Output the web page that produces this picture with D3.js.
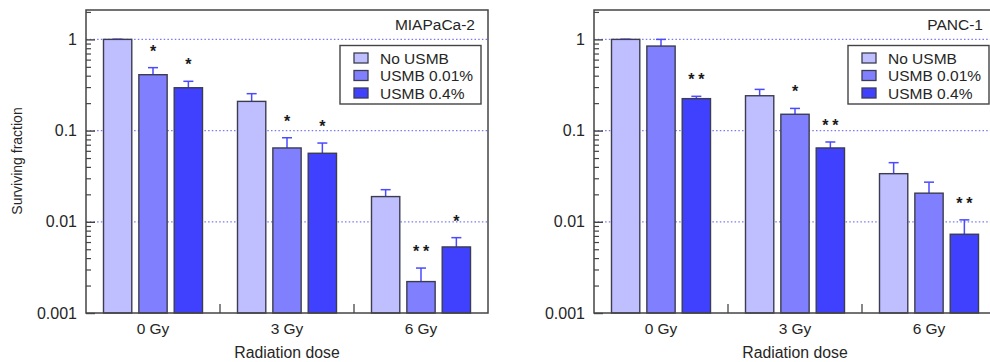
<!DOCTYPE html>
<html><head><meta charset="utf-8">
<script src="https://cdn.jsdelivr.net/npm/d3@7/dist/d3.min.js"></script>
<style>body{margin:0;background:#fff}svg{display:block}text{font-family:"Liberation Sans",Arial,sans-serif;fill:#262626}</style>
</head><body><svg id="c" width="990" height="362"></svg>
<script>
const doses = ["0 Gy", "3 Gy", "6 Gy"];
const seriesNames = ["No USMB", "USMB 0.01%", "USMB 0.4%"];
const seriesColors = ["#bfbfff", "#8080ff", "#4040ff"];
const yTickValues = [0.001, 0.01, 0.1, 1];
const yTickLabels = ["0.001", "0.01", "0.1", "1"];
const gridValues = [0.01, 0.1, 1];

// MIAPaCa-2
const mia_noUSMB = [1.0, 0.209, 0.0189];
const mia_usmb001 = [0.41, 0.0645, 0.00221];
const mia_usmb04 = [0.295, 0.0564, 0.0053];
const mia_err_noUSMB = [0.004, 0.045, 0.0036];
const mia_err_usmb001 = [0.08, 0.019, 0.0009];
const mia_err_usmb04 = [0.052, 0.0166, 0.0014];
const mia_sig_noUSMB = ["", "", ""];
const mia_sig_usmb001 = ["*", "*", "**"];
const mia_sig_usmb04 = ["*", "*", "*"];

// PANC-1
const panc_noUSMB = [1.0, 0.241, 0.0337];
const panc_usmb001 = [0.845, 0.151, 0.0206];
const panc_usmb04 = [0.224, 0.0645, 0.0073];
const panc_err_noUSMB = [0.004, 0.042, 0.0108];
const panc_err_usmb001 = [0.155, 0.024, 0.0066];
const panc_err_usmb04 = [0.0135, 0.0105, 0.0032];
const panc_sig_noUSMB = ["", "", ""];
const panc_sig_usmb001 = ["", "*", ""];
const panc_sig_usmb04 = ["**", "**", "**"];

const panels = [
  {title: "MIAPaCa-2", x0: 86, x1: 488, ylabel: true,
   vals: [mia_noUSMB, mia_usmb001, mia_usmb04],
   errs: [mia_err_noUSMB, mia_err_usmb001, mia_err_usmb04],
   sigs: [mia_sig_noUSMB, mia_sig_usmb001, mia_sig_usmb04]},
  {title: "PANC-1", x0: 594, x1: 996, ylabel: false,
   vals: [panc_noUSMB, panc_usmb001, panc_usmb04],
   errs: [panc_err_noUSMB, panc_err_usmb001, panc_err_usmb04],
   sigs: [panc_sig_noUSMB, panc_sig_usmb001, panc_sig_usmb04]}
];

(function () {
const svg = d3.select("#c");
const plotTop = 10, plotBottom = 313;
const y = d3.scaleLog().domain([0.001, 2.1]).range([plotBottom, plotTop]);
const minorTicks = y.ticks().filter(v => !yTickValues.some(t => Math.abs(t - v) / t < 1e-6));

panels.forEach(p => {
  const g = svg.append("g");
  const x = d3.scaleBand().domain(doses).range([p.x0, p.x1]).padding(0);
  const xi = d3.scaleBand().domain(seriesNames).range([17.5, x.bandwidth() - 17.5]).paddingInner(0.2);

  // grid
  g.selectAll(".grid").data(gridValues).join("line")
    .attr("x1", p.x0).attr("x2", p.x1)
    .attr("y1", d => y(d)).attr("y2", d => y(d))
    .attr("stroke", "#7b7bf0").attr("stroke-width", 1.2).attr("stroke-dasharray", "1.5,2.2");

  const rows = [];
  seriesNames.forEach((s, si) => doses.forEach((d, di) => rows.push({s, si, d, v: p.vals[si][di], e: p.errs[si][di], sig: p.sigs[si][di]})));

  // error bars + significance
  rows.forEach(r => {
    const cx = x(r.d) + xi(r.s) + xi.bandwidth() / 2;
    const ty = y(r.v + r.e);
    g.append("line").attr("x1", cx).attr("x2", cx).attr("y1", y(r.v)).attr("y2", ty)
      .attr("stroke", "#4a4aff").attr("stroke-width", 1.5);
    g.append("line").attr("x1", cx - 5).attr("x2", cx + 5).attr("y1", ty).attr("y2", ty)
      .attr("stroke", "#4a4aff").attr("stroke-width", 1.5);
    if (r.sig) {
      const n = r.sig.length;
      for (let k = 0; k < n; k++) {
        g.append("text").attr("x", cx + (k - (n - 1) / 2) * 10).attr("y", ty - 20 + 9)
          .attr("text-anchor", "middle").attr("font-size", 16).attr("font-weight", "bold")
          .style("fill", "#1a1a1a").text("*");
      }
    }
  });
  // bars
  g.selectAll(".bar").data(rows).join("rect")
    .attr("x", r => x(r.d) + xi(r.s)).attr("width", xi.bandwidth())
    .attr("y", r => y(r.v)).attr("height", r => plotBottom - y(r.v))
    .attr("fill", r => seriesColors[r.si]).attr("stroke", "#3c3c50").attr("stroke-width", 1.4);

  // y axis
  const ax = g.append("g").attr("transform", `translate(${p.x0},0)`)
    .call(d3.axisLeft(y).tickValues(yTickValues).tickFormat((d, i) => yTickLabels[i]).tickSizeInner(-9).tickSizeOuter(0).tickPadding(9));
  ax.select(".domain").remove();
  ax.selectAll("line").attr("stroke", "#444").attr("stroke-width", 1.4);
  ax.selectAll("text").attr("font-size", 16).style("fill", "#262626").attr("font-family", '"Liberation Sans",Arial,sans-serif');
  const axm = g.append("g").attr("transform", `translate(${p.x0},0)`)
    .call(d3.axisLeft(y).tickValues(minorTicks).tickFormat("").tickSizeInner(-5).tickSizeOuter(0));
  axm.select(".domain").remove();
  axm.selectAll("line").attr("stroke", "#444").attr("stroke-width", 1.2);

  // x axis labels and separators
  const xa = g.append("g").attr("transform", `translate(0,${plotBottom})`)
    .call(d3.axisBottom(x).tickSize(0).tickPadding(10));
  xa.select(".domain").remove();
  xa.selectAll("text").attr("font-size", 15.5).style("fill", "#262626").attr("font-family", '"Liberation Sans",Arial,sans-serif');
  g.selectAll(".sep").data(doses.slice(1)).join("line")
    .attr("x1", d => x(d)).attr("x2", d => x(d)).attr("y1", plotBottom).attr("y2", plotBottom - 9)
    .attr("stroke", "#555").attr("stroke-width", 1.4);

  // frame
  g.append("rect").attr("x", p.x0).attr("y", plotTop).attr("width", p.x1 - p.x0).attr("height", plotBottom - plotTop)
    .attr("fill", "none").attr("stroke", "#444").attr("stroke-width", 1.5);

  // title
  g.append("text").attr("x", p.x1 - 13).attr("y", 29.5).attr("text-anchor", "end")
    .attr("font-size", 15.5).text(p.title);

  // x label
  g.append("text").attr("x", (p.x0 + p.x1) / 2).attr("y", 358).attr("text-anchor", "middle")
    .attr("font-size", 15.8).text("Radiation dose");

  if (p.ylabel) {
    g.append("text").attr("transform", `translate(22,161) rotate(-90)`).attr("text-anchor", "middle")
      .attr("font-size", 14).text("Surviving fraction");
  }

  // legend
  const lx = p.x1 - 148, ly = 45.5;
  const lg = g.append("g");
  lg.append("rect").attr("x", lx).attr("y", ly).attr("width", 141).attr("height", 58.5)
    .attr("fill", "#fff").attr("stroke", "#444").attr("stroke-width", 1.4);
  seriesNames.forEach((s, i) => {
    const cy = 58 + i * 17.5;
    lg.append("rect").attr("x", lx + 14).attr("y", cy - 5).attr("width", 14).attr("height", 10)
      .attr("fill", seriesColors[i]).attr("stroke", "#3c3c50").attr("stroke-width", 1.3);
    lg.append("text").attr("x", lx + 40).attr("y", cy + 5.5).attr("font-size", 15.5).text(s);
  });
});
})();
</script></body></html>
